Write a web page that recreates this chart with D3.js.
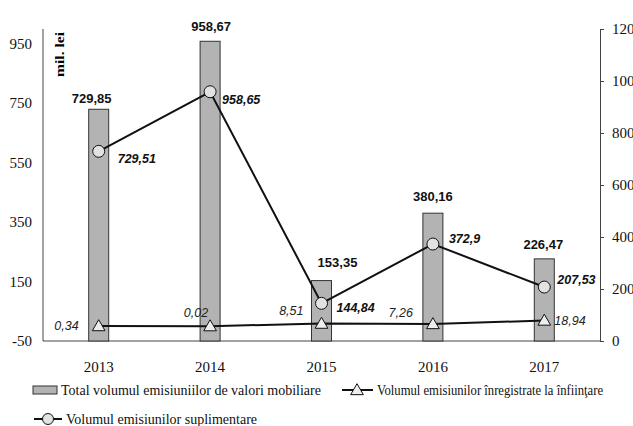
<!DOCTYPE html>
<html>
<head>
<meta charset="utf-8">
<script src="https://cdn.jsdelivr.net/npm/d3@7"></script>
<style>
  html, body { margin: 0; padding: 0; background: #fff; }
  svg { display: block; }
</style>
</head>
<body>
<svg id="chart"></svg>
<script>
// chart data
const years = ['2013', '2014', '2015', '2016', '2017']
const totalVol = [729.85, 958.67, 153.35, 380.16, 226.47]
const suplVol = [729.51, 958.65, 144.84, 372.9, 207.53]
const infiintVol = [0.34, 0.02, 8.51, 7.26, 18.94]
const leftTicks = [-50, 150, 350, 550, 750, 950]
const rightTicks = [0, 200, 400, 600, 800, 1000, 1200]
const legendLabels = [
  'Total volumul emisiuniilor de valori mobiliare',
  'Volumul emisiunilor înregistrate la înfiinţare',
  'Volumul emisiunilor suplimentare'
]

// label offsets (style only)
const barOffsets = [[-7, -6], [1, -10], [16, -14], [0, -12], [-1, -10]]
const suplOffsets = [[19, 12], [12, 12], [15, 9], [16, -1], [13, -3]]
const infOffsets = [[-20, 4, 'end'], [-2, -9, 'end'], [-18, -9, 'end'], [-20, -7, 'end'], [10, 4, 'start']]

const W = 633, H = 426
const m = { left: 43, right: 600, top: 29, bottom: 341 }

const svg = d3.select('#chart').attr('width', W).attr('height', H)
const serif = '"Liberation Serif", "Times New Roman", serif'
const sans = '"Liberation Sans", Arial, sans-serif'

const x = d3.scaleBand().domain(years).range([m.left, m.right]).padding(0)
const cx = d => x(d) + x.bandwidth() / 2
const yL = d3.scaleLinear().domain([-50, 1000]).range([m.bottom, m.top])
const yR = d3.scaleLinear().domain([0, 1200]).range([m.bottom, m.top])

// Axes
const axisColor = '#444'
svg.append('line')
  .attr('x1', m.left).attr('x2', m.left).attr('y1', m.top).attr('y2', m.bottom)
  .attr('stroke', axisColor).attr('stroke-width', 1)
svg.append('line')
  .attr('x1', m.left).attr('x2', m.right).attr('y1', m.bottom).attr('y2', m.bottom)
  .attr('stroke', axisColor).attr('stroke-width', 1)

svg.append('g').selectAll('text')
  .data(leftTicks)
  .join('text')
  .attr('x', 32)
  .attr('y', d => yL(d) + 5)
  .attr('text-anchor', 'end')
  .attr('font-family', serif)
  .attr('font-size', 15)
  .attr('fill', '#111')
  .text(d => d)

// right axis labels run off the page edge, as in the original
const rAxis = svg.append('g')
  .attr('transform', `translate(${m.right},0)`)
  .call(d3.axisRight(yR).tickValues(rightTicks).tickSize(4).tickPadding(8).tickFormat(d3.format('d')))
rAxis.select('.domain').attr('stroke', axisColor)
rAxis.selectAll('.tick line').attr('stroke', axisColor)
rAxis.selectAll('.tick text')
  .attr('font-family', serif).attr('font-size', 15).attr('fill', '#111')

svg.append('g').selectAll('text')
  .data(years)
  .join('text')
  .attr('x', d => cx(d))
  .attr('y', 372)
  .attr('text-anchor', 'middle')
  .attr('font-family', serif)
  .attr('font-size', 15)
  .attr('fill', '#111')
  .text(d => d)

svg.append('text')
  .attr('transform', 'translate(63.5,54.5) rotate(-90)')
  .attr('text-anchor', 'middle')
  .attr('font-family', serif)
  .attr('font-weight', 'bold')
  .attr('font-size', 12)
  .attr('textLength', 45)
  .attr('lengthAdjust', 'spacingAndGlyphs')
  .text('mil. lei')

const fmt = v => String(v).replace('.', ',')

// Bars
const barW = 20
svg.append('g').selectAll('rect')
  .data(totalVol)
  .join('rect')
  .attr('x', (d, i) => cx(years[i]) - barW / 2)
  .attr('y', d => yL(d))
  .attr('width', barW)
  .attr('height', d => yL(-50) - yL(d))
  .attr('fill', '#b3b3b3')
  .attr('stroke', '#333')
  .attr('stroke-width', 1)

svg.append('g').selectAll('text')
  .data(totalVol)
  .join('text')
  .attr('x', (d, i) => cx(years[i]) + barOffsets[i][0])
  .attr('y', (d, i) => yL(d) + barOffsets[i][1])
  .attr('text-anchor', 'middle')
  .attr('font-family', sans)
  .attr('font-weight', 'bold')
  .attr('font-size', 13)
  .attr('fill', '#111')
  .text(fmt)

// Lines
const infLine = d3.line().x((d, i) => cx(years[i])).y(d => yL(d))
const supLine = d3.line().x((d, i) => cx(years[i])).y(d => yR(d))

svg.append('path').datum(infiintVol)
  .attr('d', infLine).attr('fill', 'none').attr('stroke', '#111').attr('stroke-width', 2)
svg.append('path').datum(suplVol)
  .attr('d', supLine).attr('fill', 'none').attr('stroke', '#111').attr('stroke-width', 2)

const tri = d3.symbol().type(d3.symbolTriangle).size(70)
svg.append('g').selectAll('path')
  .data(infiintVol)
  .join('path')
  .attr('d', tri)
  .attr('transform', (d, i) => `translate(${cx(years[i])},${yL(d) + 1})`)
  .attr('fill', '#eee')
  .attr('stroke', '#111')
  .attr('stroke-width', 1)

svg.append('g').selectAll('circle')
  .data(suplVol)
  .join('circle')
  .attr('cx', (d, i) => cx(years[i]))
  .attr('cy', d => yR(d))
  .attr('r', 6)
  .attr('fill', '#e2e2e2')
  .attr('stroke', '#111')
  .attr('stroke-width', 1)

svg.append('g').selectAll('text')
  .data(suplVol)
  .join('text')
  .attr('x', (d, i) => cx(years[i]) + suplOffsets[i][0])
  .attr('y', (d, i) => yR(d) + suplOffsets[i][1])
  .attr('font-family', sans)
  .attr('font-weight', 'bold')
  .attr('font-style', 'italic')
  .attr('font-size', 12.5)
  .attr('fill', '#111')
  .text(fmt)

svg.append('g').selectAll('text')
  .data(infiintVol)
  .join('text')
  .attr('x', (d, i) => cx(years[i]) + infOffsets[i][0])
  .attr('y', (d, i) => yL(d) + infOffsets[i][1])
  .attr('text-anchor', (d, i) => infOffsets[i][2])
  .attr('font-family', sans)
  .attr('font-style', 'italic')
  .attr('font-size', 12.5)
  .attr('fill', '#222')
  .text(fmt)

// Legend
const lg = svg.append('g').attr('font-family', serif).attr('font-size', 14).attr('fill', '#111')
lg.append('rect').attr('x', 33).attr('y', 386).attr('width', 24).attr('height', 8)
  .attr('fill', '#b3b3b3').attr('stroke', '#333')
lg.append('text').attr('x', 61).attr('y', 395).text(legendLabels[0])

lg.append('line').attr('x1', 342).attr('x2', 373).attr('y1', 390).attr('y2', 390)
  .attr('stroke', '#111').attr('stroke-width', 2)
lg.append('path').attr('d', tri).attr('transform', 'translate(357,391)')
  .attr('fill', '#eee').attr('stroke', '#111')
lg.append('text').attr('x', 377).attr('y', 395)
  .attr('textLength', 226).attr('lengthAdjust', 'spacingAndGlyphs')
  .text(legendLabels[1])

lg.append('line').attr('x1', 34).attr('x2', 62).attr('y1', 419).attr('y2', 419)
  .attr('stroke', '#111').attr('stroke-width', 2)
lg.append('circle').attr('cx', 48).attr('cy', 419).attr('r', 5.5)
  .attr('fill', '#e2e2e2').attr('stroke', '#111')
lg.append('text').attr('x', 66).attr('y', 424).text(legendLabels[2])
</script>
</body>
</html>
